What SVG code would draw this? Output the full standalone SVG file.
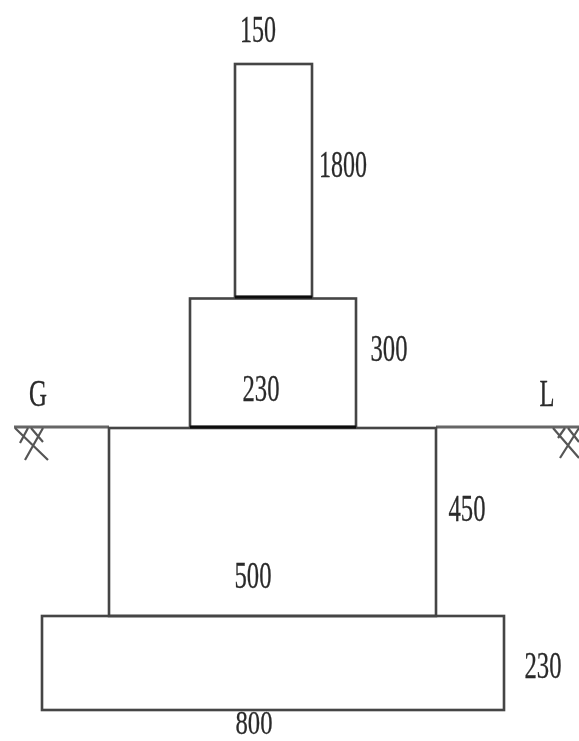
<svg xmlns="http://www.w3.org/2000/svg" width="579" height="741" viewBox="0 0 579 741">
<style>
.s{fill:none;stroke:#444;stroke-width:2.6}
.g{fill:none;stroke:#666;stroke-width:3}
.h{fill:none;stroke:#555;stroke-width:2.2}
.k{fill:none;stroke:#111;stroke-width:3}
text{font-family:"Liberation Serif",serif;font-size:37px;fill:#2a2a2a;text-anchor:middle;stroke:#2a2a2a;stroke-width:.3}
</style>
<defs><filter id="b" filterUnits="userSpaceOnUse" x="0" y="0" width="579" height="741"><feGaussianBlur stdDeviation="0.6"/></filter></defs>
<rect width="579" height="741" fill="#fff"/>
<g filter="url(#b)">
<g id="ground">
<path class="g" d="M14 427H109M436 427H579"/>
<path class="h" d="M15 428L48 460M43 428L25 460M28 428L20 443M31 428L43 442"/>
<path class="h" d="M553 428L579 458M579 428L560 458M568 428L579 442M565 428L558 438"/>
</g>
<g id="wall"><rect class="s" x="235" y="64" width="77" height="233"/></g>
<g id="plinth"><rect class="s" x="190" y="298.500" width="166" height="128.500"/></g>
<g id="footing-upper"><rect class="s" x="109" y="428" width="327" height="188"/></g>
<g id="footing-lower"><rect class="s" x="42" y="616" width="462" height="94"/></g>
<path class="k" d="M235 297H312M190 427H356"/>
<g id="labels">
<text x="258" y="42" textLength="36" lengthAdjust="spacingAndGlyphs">150</text>
<text x="343" y="177" textLength="48" lengthAdjust="spacingAndGlyphs">1800</text>
<text x="389" y="361" textLength="37" lengthAdjust="spacingAndGlyphs">300</text>
<text x="261" y="401" textLength="37" lengthAdjust="spacingAndGlyphs">230</text>
<text x="38" y="406" textLength="18" lengthAdjust="spacingAndGlyphs">G</text>
<text x="547" y="406" textLength="15" lengthAdjust="spacingAndGlyphs">L</text>
<text x="467" y="521" textLength="37" lengthAdjust="spacingAndGlyphs">450</text>
<text x="253" y="588" textLength="37" lengthAdjust="spacingAndGlyphs">500</text>
<text x="543" y="678" textLength="37" lengthAdjust="spacingAndGlyphs">230</text>
<text x="254" y="734" style="font-size:33px" textLength="37" lengthAdjust="spacingAndGlyphs">800</text>
</g>
</g>
</svg>
